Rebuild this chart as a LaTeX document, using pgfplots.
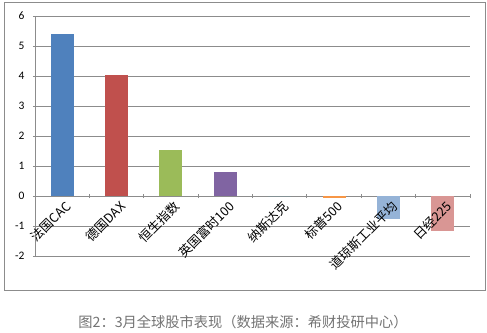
\documentclass[border=0pt]{standalone}
\usepackage{pgfplots}
\pgfplotsset{compat=1.18}
\usepackage{fontspec}
\setmainfont{Carlito}
\newfontfamily\cjk{Noto Sans CJK SC}
\definecolor{gridc}{HTML}{8C8C8C}
\definecolor{c1}{HTML}{4F81BD}
\definecolor{c2}{HTML}{C0504D}
\definecolor{c3}{HTML}{9BBB59}
\definecolor{c4}{HTML}{8064A2}
\definecolor{c5}{HTML}{4BACC6}
\definecolor{c6}{HTML}{F79646}
\definecolor{c7}{HTML}{95B3D7}
\definecolor{c8}{HTML}{D99694}
\tikzset{lab/.style={font=\cjk\fontsize{12.8}{14}\selectfont, rotate=45, anchor=north east, inner sep=1bp, yshift=-3bp}}
\begin{document}
\begin{tikzpicture}[x=1bp,y=1bp]
\useasboundingbox (-35,-76) rectangle (452,256);
\draw[gridc, line width=0.8bp] (-31,-34) rectangle (450,254);
\begin{axis}[
  at={(0,0)}, anchor=south west,
  scale only axis, width=435bp, height=240bp,
  ybar, bar width=23bp,
  xmin=-0.5, xmax=7.5, ymin=-2, ymax=6,
  ytick={-2,...,6},
  xtick={-0.5,0.5,...,7.5},
  xticklabels={},
  yticklabel style={font=\fontsize{11.5}{12}\selectfont, xshift=-5bp},
  /pgf/number format/assume math mode=true,
  major tick length=4bp,
  tick align=outside,
  tick style={gridc, line width=0.8bp},
  axis x line=middle, axis y line=left,
  axis line style={-, gridc, line width=0.8bp},
  ymajorgrids, xmajorgrids=false, grid style={gridc, line width=0.8bp},
  every axis plot/.append style={bar shift=0pt, draw=none},
  clip=false,
]
\addplot[fill=c1] coordinates {(0,5.40)};
\addplot[fill=c2] coordinates {(1,4.03)};
\addplot[fill=c3] coordinates {(2,1.53)};
\addplot[fill=c4] coordinates {(3,0.80)};
\addplot[fill=c5] coordinates {(4,0.00)};
\addplot[fill=c6] coordinates {(5,-0.08)};
\addplot[fill=c7] coordinates {(6,-0.77)};
\addplot[fill=c8] coordinates {(7,-1.17)};
\node[lab] at (axis cs:0,0) {法国CAC};
\node[lab] at (axis cs:1,0) {德国DAX};
\node[lab] at (axis cs:2,0) {恒生指数};
\node[lab] at (axis cs:3,0) {英国富时100};
\node[lab] at (axis cs:4,0) {纳斯达克};
\node[lab] at (axis cs:5,0) {标普500};
\node[lab] at (axis cs:6,0) {道琼斯工业平均};
\node[lab] at (axis cs:7,0) {日经225};
\end{axis}
\node[font=\cjk\fontsize{14.3}{16}\selectfont, text=black!55] at (208,-66) {图2：3月全球股市表现（数据来源：希财投研中心）};
\end{tikzpicture}
\end{document}
